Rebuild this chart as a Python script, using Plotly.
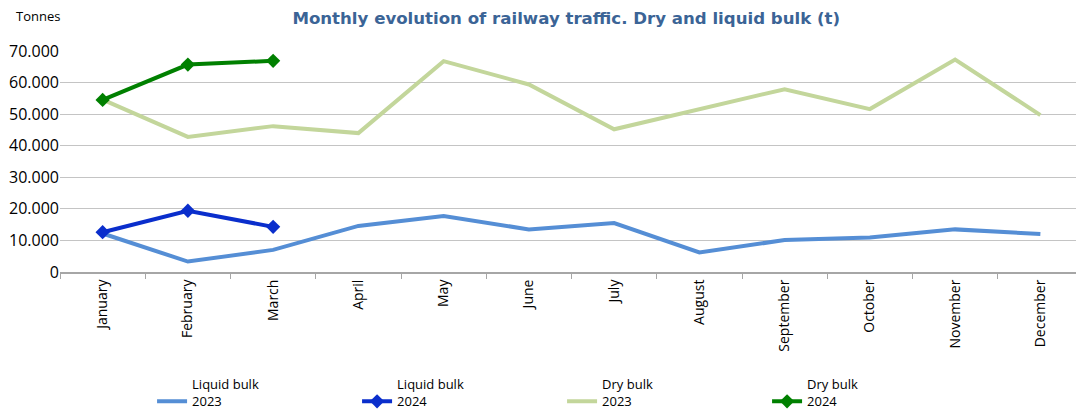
import plotly.graph_objects as go

# Months on the category axis
months = ["January", "February", "March", "April", "May", "June", "July",
          "August", "September", "October", "November", "December"]

# Tonnes per month
liquid_2023 = [12200, 3300, 7000, 14600, 17700, 13500, 15500, 6200, 10100, 10900, 13500, 12000]
liquid_2024 = [12600, 19400, 14300]
dry_2023 = [54600, 42800, 46200, 44000, 66800, 59400, 45200, 51500, 57900, 51600, 67300, 49700]
dry_2024 = [54500, 65700, 66900]

y_ticks = [0, 10000, 20000, 30000, 40000, 50000, 60000, 70000]
y_tick_text = ["0", "10.000", "20.000", "30.000", "40.000", "50.000", "60.000", "70.000"]

fig = go.Figure()

fig.add_trace(go.Scatter(
    x=months, y=liquid_2023, mode="lines", name="Liquid bulk<br>2023",
    line=dict(color="#558ED5", width=4)
))
fig.add_trace(go.Scatter(
    x=months[:len(liquid_2024)], y=liquid_2024, mode="lines+markers", name="Liquid bulk<br>2024",
    line=dict(color="#0A2ECC", width=4),
    marker=dict(symbol="diamond", size=11, color="#0A2ECC")
))
fig.add_trace(go.Scatter(
    x=months, y=dry_2023, mode="lines", name="Dry bulk<br>2023",
    line=dict(color="#C3D69B", width=4)
))
fig.add_trace(go.Scatter(
    x=months[:len(dry_2024)], y=dry_2024, mode="lines+markers", name="Dry bulk<br>2024",
    line=dict(color="#008000", width=4),
    marker=dict(symbol="diamond", size=11, color="#008000")
))

# page body has an 8px margin, so everything is laid out 8px up/left
fig.update_layout(
    width=1084, height=412,
    margin=dict(l=52, r=9, t=43, b=148, autoexpand=False),
    plot_bgcolor="white", paper_bgcolor="white",
    font=dict(family="Open Sans", size=13, color="#000000"),
    title=dict(
        text="<b>Monthly evolution of railway traffic. Dry and liquid bulk (t)</b>",
        font=dict(family="DejaVu Sans", size=16.6, color="#3B6496"),
        x=0.515, xanchor="center", y=0.976, yanchor="middle"
    ),
    xaxis=dict(
        type="category", categoryorder="array", categoryarray=months,
        range=[-0.5, 11.5],
        tickangle=-90, tickfont=dict(size=14),
        showline=True, linecolor="#A6A6A6", linewidth=2,
        ticks="outside", tickson="boundaries", ticklen=5, tickcolor="#A6A6A6",
        showgrid=False
    ),
    yaxis=dict(
        range=[0, 70000], tickvals=y_ticks, ticktext=y_tick_text,
        tickfont=dict(size=16),
        showgrid=True, gridcolor="#C4C4C4", gridwidth=1,
        zeroline=False, ticks="",
    ),
    legend=dict(
        orientation="h", x=0.09, y=-0.441, xanchor="left", yanchor="top",
        entrywidth=160, entrywidthmode="pixels",
        font=dict(size=13), valign="bottom",
        itemwidth=30
    ),
    annotations=[dict(
        text="Tonnes", xref="paper", yref="paper", x=-0.045, y=1.16,
        xanchor="left", yanchor="middle", showarrow=False, font=dict(size=13)
    )]
)

fig.write_html("out.html")
